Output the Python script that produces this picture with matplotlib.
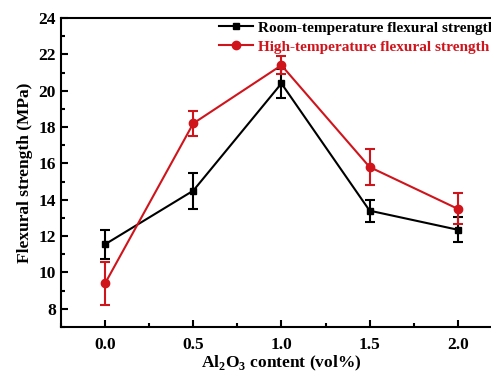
import matplotlib.pyplot as plt
from matplotlib.ticker import MultipleLocator
from matplotlib.lines import Line2D

plt.rcParams['font.family'] = ['Liberation Serif', 'DejaVu Serif']
plt.rcParams['font.weight'] = 'bold'
plt.rcParams['mathtext.fontset'] = 'custom'
plt.rcParams['mathtext.rm'] = 'Liberation Serif:bold'
plt.rcParams['mathtext.bf'] = 'Liberation Serif:bold'

# data
al2o3 = [0.0, 0.5, 1.0, 1.5, 2.0]
room = [11.55, 14.5, 20.4, 13.4, 12.35]
room_err = [0.8, 1.0, 0.8, 0.6, 0.7]
high = [9.4, 18.2, 21.4, 15.8, 13.5]
high_err = [1.2, 0.7, 0.5, 1.0, 0.85]
red = '#d0141c'

fig = plt.figure(figsize=(4.91, 3.75), dpi=100)
ax = fig.add_axes([0.1242, 0.128, 0.898, 0.824])

ax.errorbar(al2o3, room, yerr=room_err, color='black', marker='s', markersize=5,
            linewidth=1.5, capsize=3.5, capthick=1.5, elinewidth=1.5)
ax.errorbar(al2o3, high, yerr=high_err, color=red, marker='o', markersize=6,
            linewidth=1.5, capsize=3.5, capthick=1.5, elinewidth=1.5)

ax.set_xlim(-0.25, 2.25)
ax.set_ylim(7, 24)
ax.xaxis.set_major_locator(MultipleLocator(0.5))
ax.xaxis.set_minor_locator(MultipleLocator(0.25))
ax.yaxis.set_major_locator(MultipleLocator(2))
ax.yaxis.set_minor_locator(MultipleLocator(1))
ax.tick_params(which='both', direction='in', width=1.5, labelsize=12.5)
ax.tick_params(which='major', length=5)
ax.tick_params(which='minor', length=3)
ax.tick_params(axis='x', pad=7)
ax.set_xticklabels([f'{v:.1f}' for v in ax.get_xticks()])
for s in ax.spines.values():
    s.set_linewidth(1.5)

ax.set_xlabel('Al$_2$O$_3$ content (vol%)', fontsize=12.5, fontweight='bold', labelpad=1)
ax.set_ylabel('Flexural strength (MPa)', fontsize=12.5, fontweight='bold')

handles = [Line2D([], [], color='black', marker='s', markersize=5, linewidth=1.5),
           Line2D([], [], color=red, marker='o', markersize=6, linewidth=1.5)]
labels = ['Room-temperature flexural strength', 'High-temperature flexural strength']
leg = ax.legend(handles, labels, loc='upper right', frameon=False, fontsize=11,
                handlelength=2.2, handletextpad=0.3, borderaxespad=0.0,
                labelspacing=0.35, bbox_to_anchor=(1.0, 1.01))
for txt, c in zip(leg.get_texts(), ['black', red]):
    txt.set_color(c)

fig.savefig('out.png', dpi=100)
